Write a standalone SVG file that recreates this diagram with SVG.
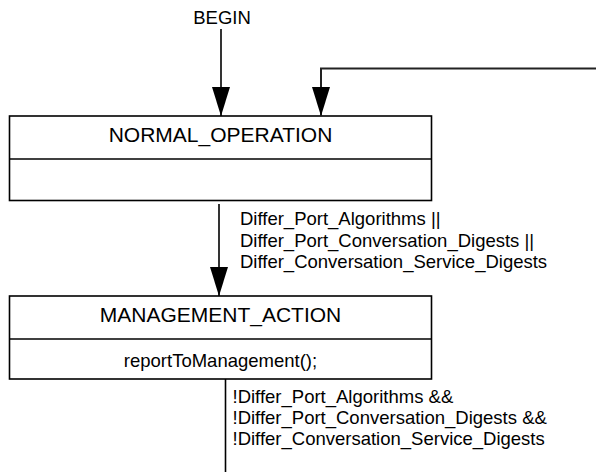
<svg xmlns="http://www.w3.org/2000/svg" width="596" height="472" viewBox="0 0 596 472">
  <style>
    .state { fill: #ffffff; stroke: #000000; stroke-width: 1.6; }
    .divider { stroke: #000000; stroke-width: 1.6; }
    .title { font-family: "Liberation Sans", Arial, sans-serif; font-size: 21px; fill: #000000; text-anchor: middle; }
    .body { font-family: "Liberation Sans", Arial, sans-serif; font-size: 18.5px; fill: #000000; }
    .center { text-anchor: middle; }
    .wire { fill: none; stroke: #000000; stroke-width: 1.6; }
    .wire.return { stroke: #222222; stroke-width: 2; }
  </style>
  <defs>
    <marker id="arrow" viewBox="0 0 29 18" markerWidth="29" markerHeight="18" markerUnits="userSpaceOnUse" refX="29" refY="9" orient="auto">
      <path d="M0,0 L29,9 L0,18 Z" fill="#000000"/>
    </marker>
  </defs>

  <rect width="596" height="472" fill="#ffffff"/>

  <!-- states -->
  <g id="normal_operation">
    <rect class="state" x="9.5" y="116" width="422" height="84.5"/>
    <line class="divider" x1="9.5" y1="159" x2="431.5" y2="159"/>
    <text class="title" x="220.5" y="142">NORMAL_OPERATION</text>
  </g>

  <g id="management_action">
    <rect class="state" x="9.5" y="296" width="422" height="83"/>
    <line class="divider" x1="9.5" y1="339" x2="431.5" y2="339"/>
    <text class="title" x="220.5" y="322">MANAGEMENT_ACTION</text>
    <text class="body center" x="220.5" y="367">reportToManagement();</text>
  </g>

  <!-- transitions -->
  <g id="connectors">
    <text class="body center" x="222" y="24">BEGIN</text>
    <line class="wire" x1="221" y1="29" x2="221" y2="116" marker-end="url(#arrow)"/>

    <polyline class="wire return" points="600,68.5 321,68.5 321,116" marker-end="url(#arrow)"/>

    <line class="wire" x1="219" y1="204" x2="219" y2="296" marker-end="url(#arrow)"/>
    <text class="body" x="240" y="225">Differ_Port_Algorithms ||</text>
    <text class="body" x="240" y="246.5">Differ_Port_Conversation_Digests ||</text>
    <text class="body" x="240" y="268">Differ_Conversation_Service_Digests</text>

    <line class="wire" x1="225.5" y1="379" x2="225.5" y2="472"/>
    <text class="body" x="232.5" y="402.5">!Differ_Port_Algorithms &amp;&amp;</text>
    <text class="body" x="232.5" y="423.5">!Differ_Port_Conversation_Digests &amp;&amp;</text>
    <text class="body" x="232.5" y="444.5">!Differ_Conversation_Service_Digests</text>
  </g>
</svg>
